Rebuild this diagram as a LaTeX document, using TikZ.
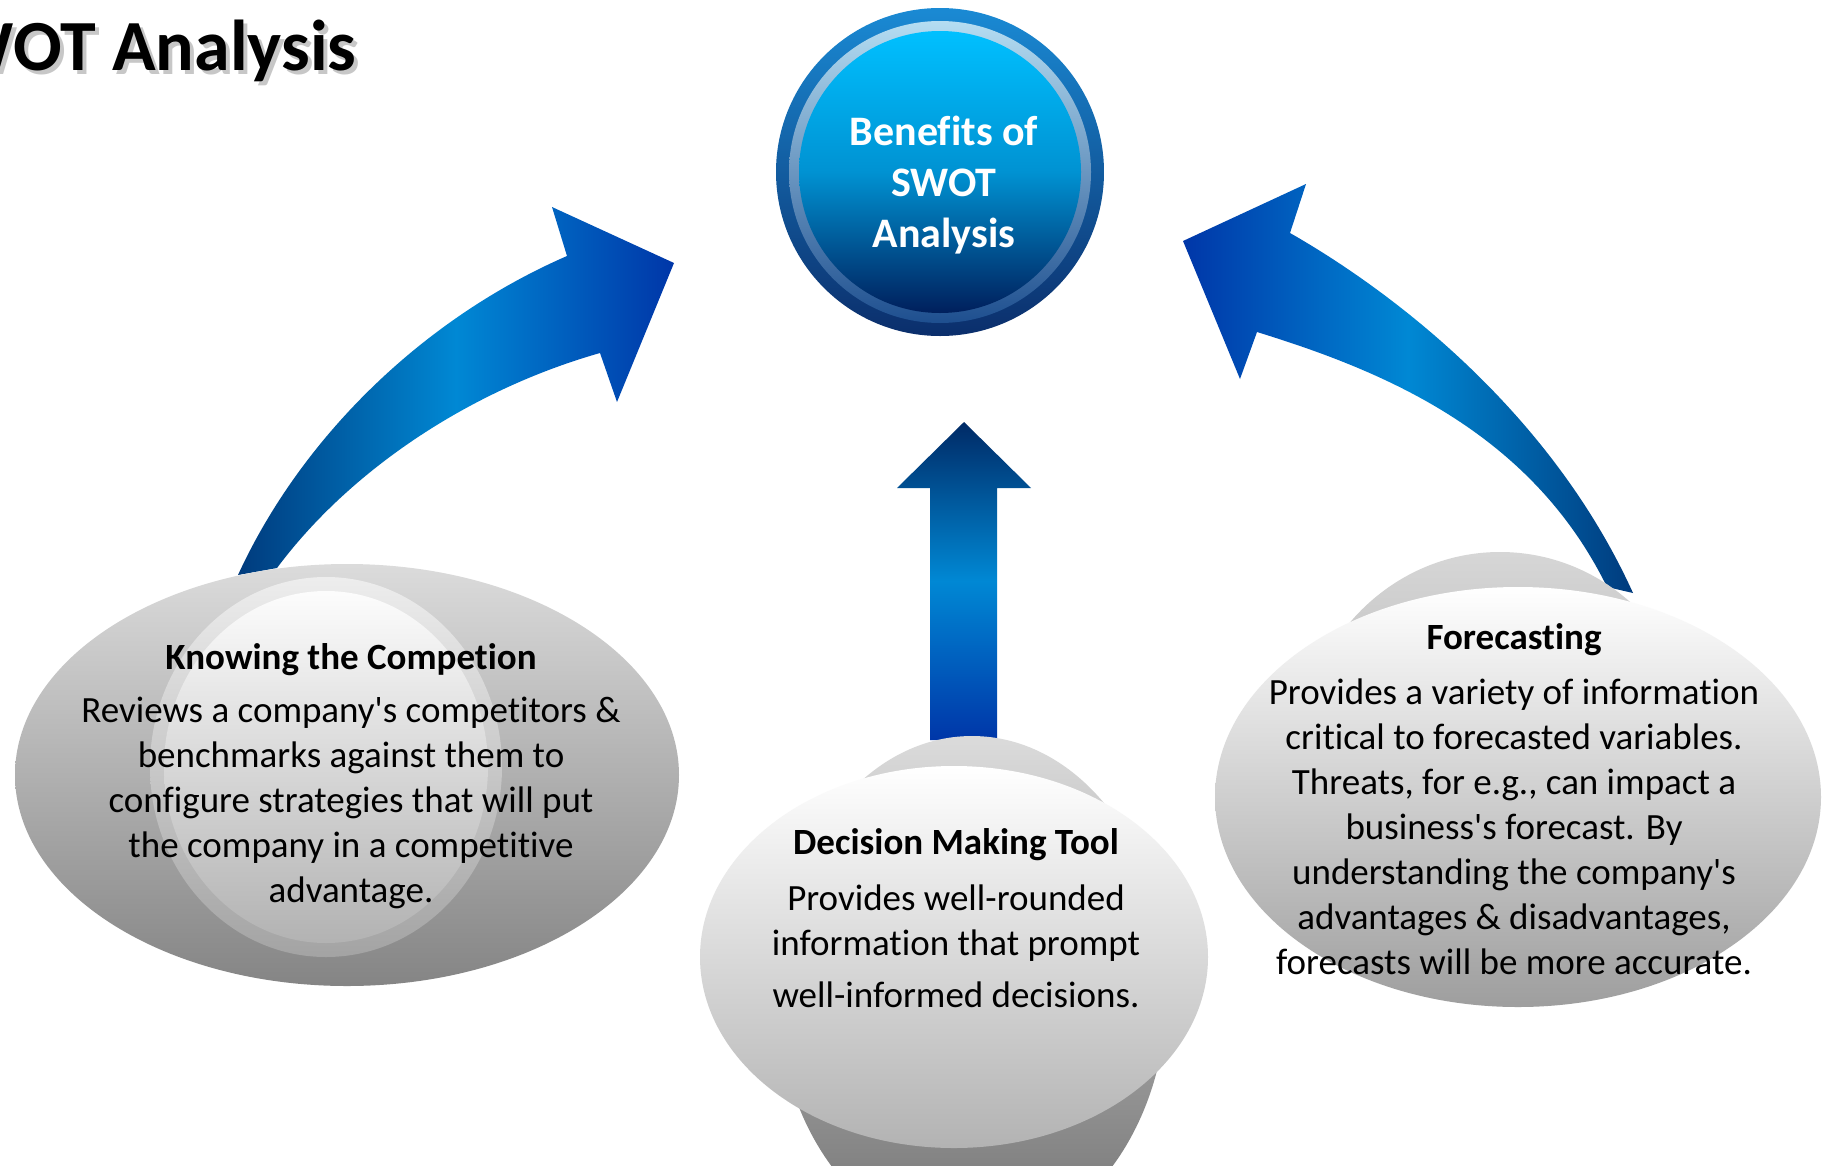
\documentclass[tikz,border=0pt]{standalone}
\usepackage{fontspec}
\newfontfamily\calibri{Carlito}[Ligatures=NoCommon]
\usetikzlibrary{shapes.geometric}
\definecolor{navy}{HTML}{003B7D}
\definecolor{bright}{HTML}{0088D4}
\definecolor{royal}{HTML}{0036A8}
\definecolor{deep}{HTML}{002A66}
\definecolor{hubtop}{HTML}{1A8AD4}
\definecolor{hubbot}{HTML}{0B2E6B}
\definecolor{ringtop}{HTML}{B5DDF2}
\definecolor{ringbot}{HTML}{1E4F8F}
\definecolor{coretop}{HTML}{00C0FF}
\definecolor{coremid}{HTML}{0092D2}
\definecolor{corebot}{HTML}{001F5C}
\begin{document}
\begin{tikzpicture}[x=1pt,y=-1pt,
  disk/.style={circle, inner sep=0pt, minimum size=#1},
  oval/.style 2 args={ellipse, inner sep=0pt, minimum width=#1, minimum height=#2},
  bodytext/.style={align=center, text=black, font=\calibri\fontsize{37}{45}\selectfont},
  headtext/.style={align=center, text=black, font=\calibri\bfseries\fontsize{37}{45}\selectfont},
  blockarrow/.style={draw=none},
]
\useasboundingbox (0,0) rectangle (1823,1165);
\clip (0,0) rectangle (1823,1165);
\fill[white] (0,0) rectangle (1823,1165);

% title
\node[anchor=base east, text=black!22, font=\calibri\bfseries\fontsize{72}{80}\selectfont] (titleshadow) at (364,74) {SWOT Analysis};
\node[anchor=base east, text=black, font=\calibri\bfseries\fontsize{72}{80}\selectfont] (title) at (360,70) {SWOT Analysis};

% arrows
\shade[blockarrow, left color=navy, right color=royal, middle color=bright]
  (238,575) .. controls (300,440) and (420,320) .. (567,256) -- (552,207) -- (674,263)
  -- (617,402) -- (600,353) .. controls (470,390) and (350,470) .. (277,568) -- cycle;
\shade[blockarrow, left color=royal, right color=navy, middle color=bright]
  (1183,241) -- (1306,184) -- (1290,233) .. controls (1390,290) and (1550,410) .. (1633,593)
  -- (1607,587) .. controls (1530,430) and (1380,370) .. (1257,332) -- (1240,379) -- cycle;
\shade[blockarrow, top color=deep, bottom color=royal, middle color=bright]
  (964,422) -- (1031,488) -- (997,488) -- (997,740) -- (930,740) -- (930,488) -- (897,488) -- cycle;

% hub
\node[disk=328pt, shade, top color=hubtop, bottom color=hubbot] (hub) at (940,172) {};
\node[disk=302pt, shade, top color=ringtop, bottom color=ringbot] (hubring) at (hub) {};
\node[disk=282pt, shade, top color=coretop, bottom color=corebot, middle color=coremid] (hubcore) at (hub) {};
\node[align=center, text=white, font=\calibri\bfseries\fontsize{42}{51}\selectfont] (hubtext) at (944,185) {Benefits of\\SWOT\\Analysis};

% left shape
\node[oval={664pt}{422pt}, shade, top color=black!14, bottom color=black!48] (leftouter) at (347,775) {};
\node[oval={352pt}{380pt}, shade, top color=black!7, bottom color=black!36] (leftring) at (326,767) {};
\node[oval={324pt}{352pt}, shade, top color=black!1, bottom color=black!30] (leftinner) at (326,767) {};
\node[headtext] (lefttitle) at (351,660) {Knowing the Competion};
\node[bodytext] (lefttext) at (351,803) {Reviews a company's competitors \&\\benchmarks against them to\\configure strategies that will put\\the company in a competitive\\advantage.};

% middle shape
\node[oval={390pt}{508pt}, shade, top color=black!14, bottom color=black!55] (midback) at (972,990) {};
\node[oval={508pt}{382pt}, shade, top color=white, bottom color=black!30] (midfront) at (954,957) {};
\node[headtext] (midtitle) at (956,845) {Decision Making Tool};
\node[bodytext] (midtext) at (956,946) {Provides well-rounded\\information that prompt\\[7pt]well-informed decisions.};

% right shape
\node[oval={400pt}{416pt}, shade, top color=black!16, bottom color=black!40] (rightback) at (1500,760) {};
\node[oval={606pt}{420pt}, shade, top color=white, bottom color=black!38] (rightfront) at (1518,797) {};
\node[headtext] (righttitle) at (1514,640) {Forecasting};
\node[bodytext] (righttext) at (1514,827) {Provides a variety of information\\critical to forecasted variables.\\Threats, for e.g., can impact a\\business's forecast. By\\understanding the company's\\advantages \& disadvantages,\\forecasts will be more accurate.};
\end{tikzpicture}
\end{document}
